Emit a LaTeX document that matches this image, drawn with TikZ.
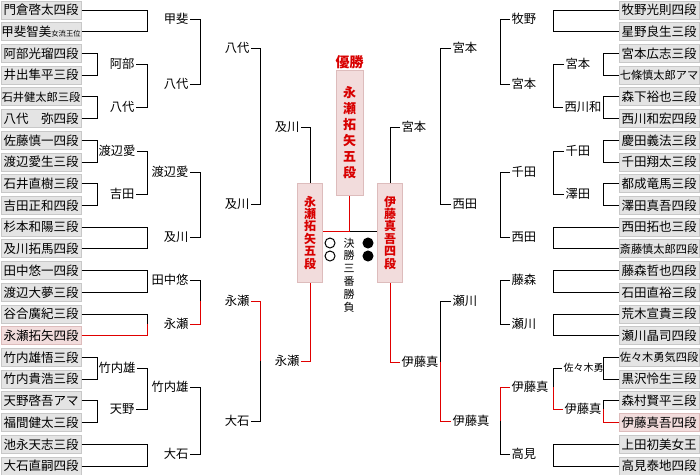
\documentclass[tikz,border=0pt]{standalone}
\usepackage{fontspec}
\setmainfont{Noto Sans CJK JP}
\usepackage{tikz}

\definecolor{boxfill}{HTML}{E4E4E4}
\definecolor{boxline}{HTML}{C8C8C8}
\definecolor{pinkfill}{HTML}{F2DCDC}
\definecolor{pinkline}{HTML}{DDBCBC}
\definecolor{winred}{HTML}{E00000}
\definecolor{textred}{HTML}{D80000}

\begin{document}
\begin{tikzpicture}[x=1pt, y=-1pt, line width=1pt,
    player/.style={draw=boxline, fill=boxfill, minimum width=80pt, minimum height=18pt, inner sep=0pt, font=\fontsize{12.5}{12.5}\selectfont},
    long/.style={player, font=\fontsize{11.2}{11.2}\selectfont},
    hl/.style={player, draw=pinkline, fill=pinkfill},
    lbl/.style={inner sep=1pt, font=\fontsize{12.3}{12.3}\selectfont},
    semi/.style={draw=pinkline, fill=pinkfill, minimum width=25pt, minimum height=99pt, inner sep=0pt, align=center, text=textred, font=\bfseries\fontsize{12}{12.4}\selectfont},
    dot/.style={circle, draw, minimum size=10pt, inner sep=0pt}]
        \useasboundingbox (0,0) rectangle (700,474);

        % Define the row height of the player boxes
        \def\row{21.72}

        % Draw the player boxes on both sides
        \foreach \name/\kind [count=\i] in {門倉啓太四段/player, {甲斐智美{\fontsize{7.3}{7.3}\selectfont 女流王位}}/player,
            阿部光瑠四段/player, 井出隼平三段/player, 石井健太郎三段/long, 八代　弥四段/player,
            佐藤慎一四段/player, 渡辺愛生三段/player, 石井直樹三段/player, 吉田正和四段/player,
            杉本和陽三段/player, 及川拓馬四段/player, 田中悠一四段/player, 渡辺大夢三段/player,
            谷合廣紀三段/player, 永瀬拓矢四段/hl, 竹内雄悟三段/player, 竹内貴浩三段/player,
            天野啓吾アマ/player, 福間健太三段/player, 池永天志三段/player, 大石直嗣四段/player}
        {
          \node[\kind] (L\i) at (41, {10+\row*(\i-1)}) {\name};
        }
        \foreach \name/\kind [count=\i] in {牧野光則四段/player, 星野良生三段/player,
            宮本広志三段/player, 七條慎太郎アマ/long, 森下裕也三段/player, 西川和宏四段/player,
            慶田義法三段/player, 千田翔太三段/player, 都成竜馬三段/player, 澤田真吾四段/player,
            西田拓也三段/player, 斎藤慎太郎四段/long, 藤森哲也四段/player, 石田直裕三段/player,
            荒木宣貴三段/player, 瀬川晶司四段/player, 佐々木勇気四段/long, 黒沢怜生三段/player,
            森村賢平三段/player, 伊藤真吾四段/hl, 上田初美女王/player, 高見泰地四段/player}
        {
          \node[\kind] (R\i) at (659, {10+\row*(\i-1)}) {\name};
        }

        % Columns of the brackets
        \coordinate (cA) at (97,0);
        \coordinate (cB) at (147,0);
        \coordinate (cC) at (200,0);
        \coordinate (cD) at (260,0);
        \coordinate (dA) at (603,0);
        \coordinate (dB) at (553,0);
        \coordinate (dC) at (500,0);
        \coordinate (dD) at (440,0);

        % Winners on the left side
        \node[lbl, anchor=east] (abeA) at (136,64) {阿部};
        \node[lbl, anchor=east] (yashiroA) at (136,107) {八代};
        \node[lbl, anchor=east] (watanabeA) at (137,151) {渡辺愛};
        \node[lbl, anchor=east] (yoshidaA) at (136,194) {吉田};
        \node[lbl, anchor=east] (takeuchiA) at (137,368) {竹内雄};
        \node[lbl, anchor=east] (amanoA) at (136,409) {天野};
        \node[lbl, anchor=east] (kaiB) at (190,19) {甲斐};
        \node[lbl, anchor=east] (yashiroB) at (190,84) {八代};
        \node[lbl, anchor=east] (watanabeB) at (190,172) {渡辺愛};
        \node[lbl, anchor=east] (oikawaB) at (190,237) {及川};
        \node[lbl, anchor=east] (tanakaB) at (190,280) {田中悠};
        \node[lbl, anchor=east] (nagaseB) at (190,324) {永瀬};
        \node[lbl, anchor=east] (takeuchiB) at (190,387) {竹内雄};
        \node[lbl, anchor=east] (oishiB) at (190,454) {大石};
        \node[lbl, anchor=east] (yashiroC) at (251,48) {八代};
        \node[lbl, anchor=east] (oikawaC) at (251,204) {及川};
        \node[lbl, anchor=east] (nagaseC) at (251,301) {永瀬};
        \node[lbl, anchor=east] (oishiC) at (251,421) {大石};
        \node[lbl, anchor=east] (oikawaD) at (301,127) {及川};
        \node[lbl, anchor=east] (nagaseD) at (301,361) {永瀬};

        % Winners on the right side
        \node[lbl, anchor=west] (miyamotoA) at (564,64) {宮本};
        \node[lbl, anchor=west] (nishikawaA) at (563,107) {西川和};
        \node[lbl, anchor=west] (sendaA) at (564,151) {千田};
        \node[lbl, anchor=west] (sawadaA) at (564,194) {澤田};
        \node[lbl, anchor=west, font=\fontsize{10}{10}\selectfont] (sasakiA) at (562,368) {佐々木勇};
        \node[lbl, anchor=west] (itoA) at (563,409) {伊藤真};
        \node[lbl, anchor=west] (makinoB) at (510,19) {牧野};
        \node[lbl, anchor=west] (miyamotoB) at (510,84) {宮本};
        \node[lbl, anchor=west] (sendaB) at (510,172) {千田};
        \node[lbl, anchor=west] (nishidaB) at (510,237) {西田};
        \node[lbl, anchor=west] (fujimoriB) at (510,280) {藤森};
        \node[lbl, anchor=west] (segawaB) at (510,324) {瀬川};
        \node[lbl, anchor=west] (itoB) at (510,387) {伊藤真};
        \node[lbl, anchor=west] (takamiB) at (510,454) {高見};
        \node[lbl, anchor=west] (miyamotoC) at (451,48) {宮本};
        \node[lbl, anchor=west] (nishidaC) at (451,204) {西田};
        \node[lbl, anchor=west] (segawaC) at (451,301) {瀬川};
        \node[lbl, anchor=west] (itoC) at (451,421) {伊藤真};
        \node[lbl, anchor=west] (miyamotoD) at (400,127) {宮本};
        \node[lbl, anchor=west] (itoD) at (400,362) {伊藤真};

        % Brackets: loser / winner / next / column / colour of the winner's half
        \foreach \a/\b/\w/\c/\col in {L1/L2/kaiB/cB/black, L3/L4/abeA/cA/black, L5/L6/yashiroA/cA/black,
            abeA/yashiroA/yashiroB/cB/black, kaiB/yashiroB/yashiroC/cC/black,
            L7/L8/watanabeA/cA/black, L9/L10/yoshidaA/cA/black, watanabeA/yoshidaA/watanabeB/cB/black,
            L11/L12/oikawaB/cB/black, watanabeB/oikawaB/oikawaC/cC/black, yashiroC/oikawaC/oikawaD/cD/black,
            L13/L14/tanakaB/cB/black, L15/L16/nagaseB/cB/winred, tanakaB/nagaseB/nagaseC/cC/winred,
            L17/L18/takeuchiA/cA/black, L19/L20/amanoA/cA/black, takeuchiA/amanoA/takeuchiB/cB/black,
            L21/L22/oishiB/cB/black, takeuchiB/oishiB/oishiC/cC/black, oishiC/nagaseC/nagaseD/cD/winred}
        {
          \draw (\a.east) -| (\c |- \w);
          \draw[draw=\col] (\b.east) -| (\c |- \w);
        }
        \foreach \a/\b/\w/\c/\col in {R2/R1/makinoB/dB/black, R4/R3/miyamotoA/dA/black, R5/R6/nishikawaA/dA/black,
            nishikawaA/miyamotoA/miyamotoB/dB/black, makinoB/miyamotoB/miyamotoC/dC/black,
            R7/R8/sendaA/dA/black, R9/R10/sawadaA/dA/black, sawadaA/sendaA/sendaB/dB/black,
            R12/R11/nishidaB/dB/black, sendaB/nishidaB/nishidaC/dC/black, miyamotoC/nishidaC/miyamotoD/dD/black,
            R14/R13/fujimoriB/dB/black, R15/R16/segawaB/dB/black, fujimoriB/segawaB/segawaC/dC/black,
            R17/R18/sasakiA/dA/black, R19/R20/itoA/dA/winred, sasakiA/itoA/itoB/dB/winred,
            R21/R22/takamiB/dB/black, takamiB/itoB/itoC/dC/winred, segawaC/itoC/itoD/dD/winred}
        {
          \draw (\a.west) -| (\c |- \w);
          \draw[draw=\col] (\b.west) -| (\c |- \w);
        }

        % Semi-finals and the final
        \node[semi] (semiL) at (310,232.5) {永\\瀬\\拓\\矢\\五\\段};
        \node[semi] (semiR) at (390,232.5) {伊\\藤\\真\\吾\\四\\段};
        \node[semi, minimum width=27pt, minimum height=125pt, font=\bfseries\fontsize{13}{16}\selectfont] (champ) at (349.5,132.5) {永\\瀬\\拓\\矢\\五\\段};
        \node[text=textred, inner sep=0pt, font=\bfseries\fontsize{14}{14}\selectfont] (title) at (349.5,62) {優勝};
        \coordinate (fin) at (349.5,231);

        \draw (oikawaD.east) -| (semiL.north);
        \draw[winred] (nagaseD.east) -| (semiL.south);
        \draw (miyamotoD.west) -| (semiR.north);
        \draw[winred] (itoD.west) -| (semiR.south);
        \draw[winred] (semiL.east |- fin) -- (fin);
        \draw (fin) -- (semiR.west |- fin);
        \draw[winred] (champ.south) -- (fin);

        % Results of the final
        \node[dot] (w1) at (330,243) {};
        \node[dot] (w2) at (330,256) {};
        \node[dot, fill=black] (b1) at (368,243) {};
        \node[dot, fill=black] (b2) at (368,256) {};
        \node[inner sep=0pt, align=center, font=\fontsize{11}{12.8}\selectfont] (match) at (349,275) {決\\勝\\三\\番\\勝\\負};
      \end{tikzpicture}
\end{document}
